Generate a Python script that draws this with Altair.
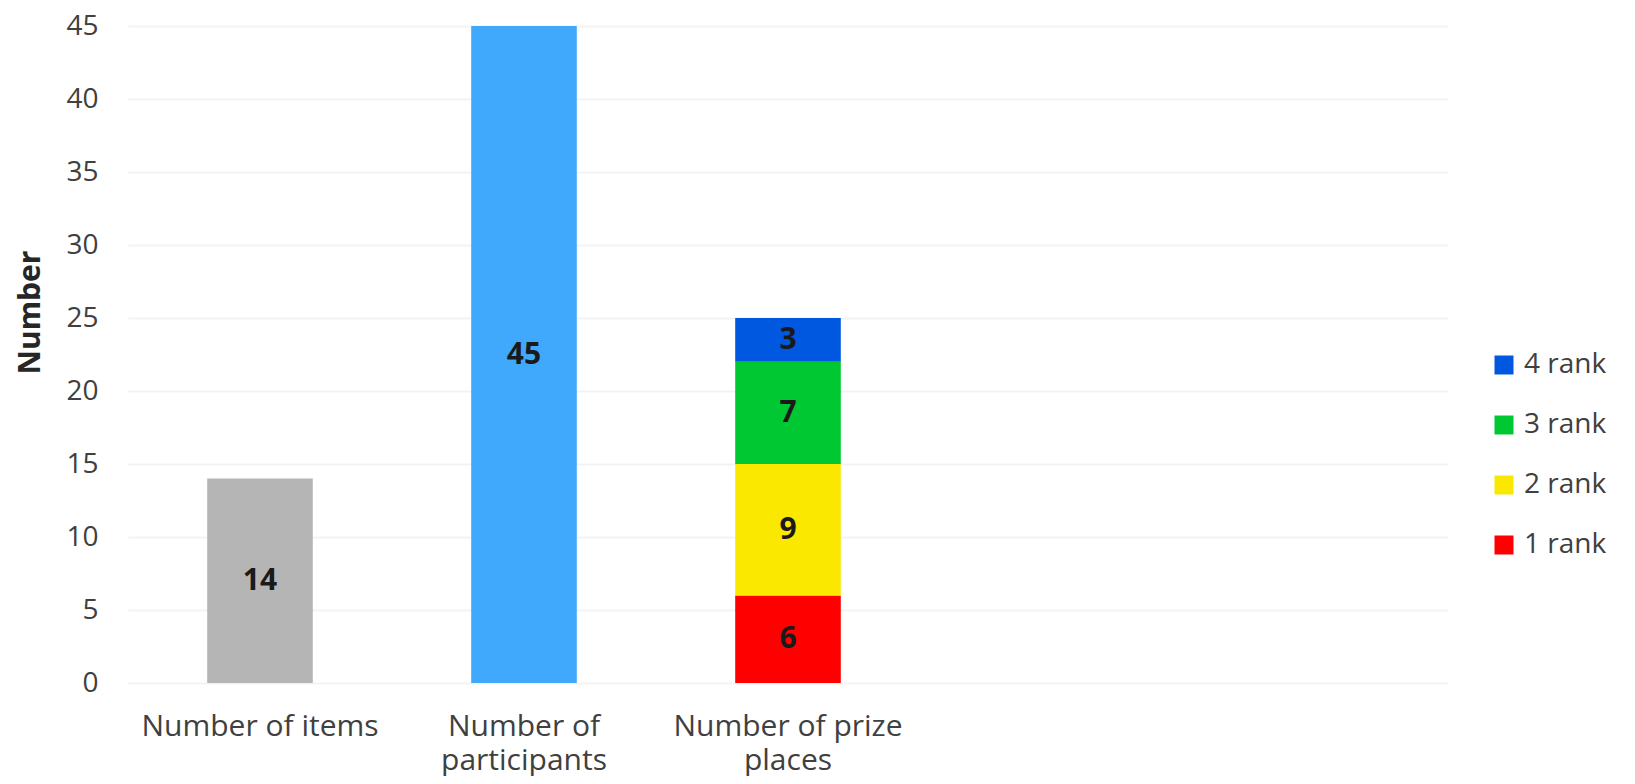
import json
import altair as alt
import pandas as pd

# ---- data ----
categories = ["Number of items", "Number of participants", "Number of prize places", "slot 4", "slot 5"]
label_lines = [["Number of items"], ["Number of", "participants"], ["Number of prize", "places"], [""], [""]]

bar_category = ["Number of items", "Number of participants",
                "Number of prize places", "Number of prize places",
                "Number of prize places", "Number of prize places"]
bar_series = ["Items", "Participants", "1 rank", "2 rank", "3 rank", "4 rank"]
bar_values = [14, 45, 6, 9, 7, 3]
stack_order = [0, 0, 1, 2, 3, 4]
series_colors = ["#b5b5b5", "#40a9fc", "#ff0000", "#fae800", "#00c832", "#0058e0"]
legend_entries = ["4 rank", "3 rank", "2 rank", "1 rank"]
y_ticks = [0, 5, 10, 15, 20, 25, 30, 35, 40, 45]

df = pd.DataFrame({
    "category": bar_category,
    "series": bar_series,
    "value": bar_values,
    "order": stack_order,
})

# multi-line x labels
expr = "''"
for cat, lines in reversed(list(zip(categories, label_lines))):
    expr = f"datum.value == {json.dumps(cat)} ? {json.dumps(lines)} : ({expr})"

FONT = "Open Sans"
TXT = "#404040"

x_enc = alt.X(
    "category:N",
    scale=alt.Scale(domain=categories, paddingInner=0.6, paddingOuter=0.3),
    axis=alt.Axis(title=None, labelExpr=expr, labelAngle=0, labelFontSize=30,
                  labelFont=FONT, labelColor=TXT, labelPadding=28, labelLineHeight=34,
                  labelLimit=0, ticks=False, domain=False, grid=False,
                  labelBaseline="top", labelOverlap=False),
)
y_axis = alt.Axis(values=y_ticks, title="Number", titleFont=FONT, titleFontSize=30,
                  titleFontWeight="bold", titleColor="#262626", titleAngle=-90,
                  titleX=-98, titleY=286, titleBaseline="middle", titleAlign="center",
                  labelFont=FONT, labelFontSize=28, labelColor=TXT, labelPadding=30,
                  ticks=False, domain=False, grid=True, gridColor="#f3f3f3", gridWidth=2)
y_scale = alt.Scale(domain=[0, 45], nice=False)

base = alt.Chart(df).transform_stack(
    stack="value", groupby=["category"], as_=["y0", "y1"],
    sort=[alt.SortField("order", order="ascending")],
).transform_calculate(mid="(datum.y0 + datum.y1) / 2")

bars = base.mark_bar().encode(
    x=x_enc,
    y=alt.Y("y0:Q", scale=y_scale, axis=y_axis),
    y2="y1:Q",
    color=alt.Color(
        "series:N",
        scale=alt.Scale(domain=bar_series, range=series_colors),
        legend=alt.Legend(values=legend_entries, title=None, orient="none",
                          legendX=1362, legendY=325, symbolType="square",
                          symbolSize=361, symbolStrokeWidth=0, labelFont=FONT,
                          labelFontSize=28, labelColor=TXT, labelOffset=6,
                          rowPadding=32, padding=0),
    ),
)

labels = base.mark_text(font=FONT, fontSize=30, fontWeight="bold", color="#1a1a1a",
                        baseline="middle", align="center").encode(
    x=x_enc,
    y=alt.Y("mid:Q", scale=y_scale, axis=y_axis),
    text="value:Q",
)

chart = alt.layer(bars, labels).properties(
    width=1320, height=657,
    autosize=alt.AutoSizeParams(type="none"),
    padding={"left": 120, "top": 18, "right": 170, "bottom": 93},
).configure_view(stroke=None)

chart.save("out.html", embed_options={"renderer": "svg", "actions": False})
